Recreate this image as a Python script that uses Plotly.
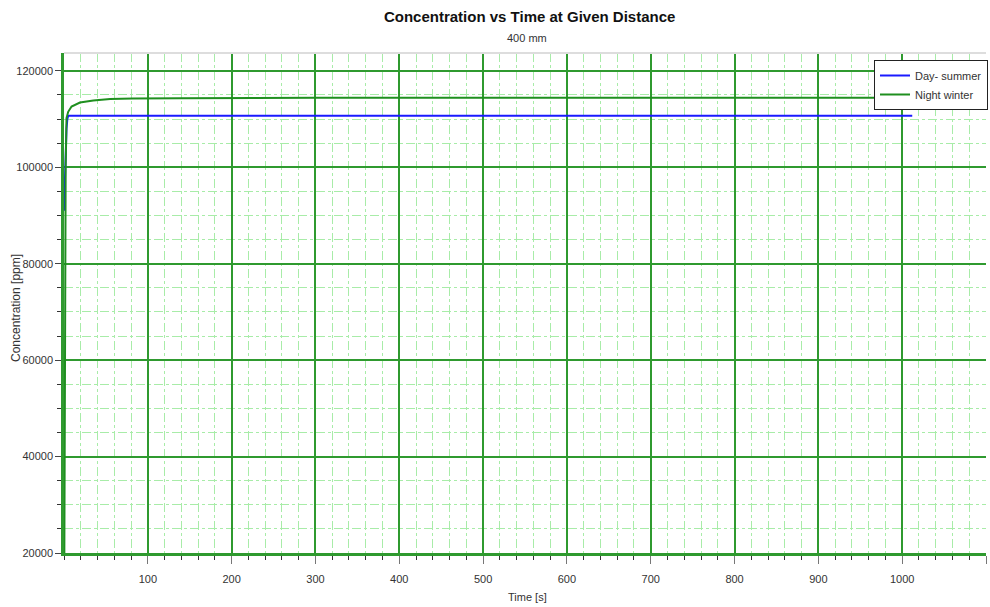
import plotly.graph_objects as go

# Data
day_t = [0, 1, 2, 3, 4, 5, 100, 500, 1012]
day_c = [91000, 97000, 104000, 108000, 110000, 110700, 110700, 110700, 110700]

night_t = [0, 1, 2, 3, 5, 9, 19, 35, 55, 82, 138, 300, 600, 1100]
night_c = [0, 80000, 100000, 110200, 111500, 112600, 113430, 113850, 114135, 114260, 114340, 114400, 114400, 114400]

x_tickvals = [100, 200, 300, 400, 500, 600, 700, 800, 900, 1000, 1100]
x_ticktext = ["100", "200", "300", "400", "500", "600", "700", "800", "900", "1000", "1100"]

DARK = "#2f9a2f"
LIGHT = "#a8eca8"

L, R, T, B = 64, 4, 53, 54
PW, PH = 990 - L - R, 607 - T - B


def px_x(p):
    return (p - L) / PW


def px_y(p):
    return (607 - B - p) / PH


fig = go.Figure()
fig.add_trace(go.Scatter(x=day_t, y=day_c, mode="lines", name="Day- summer",
                         line=dict(color="#1a1aff", width=2)))
fig.add_trace(go.Scatter(x=night_t, y=night_c, mode="lines", name="Night winter",
                         line=dict(color="#1f8f1f", width=2)))

fig.update_layout(
    width=990, height=607,
    margin=dict(l=L, r=R, t=T, b=B, autoexpand=False),
    paper_bgcolor="white", plot_bgcolor="white",
    title=dict(text="<b>Concentration vs Time at Given Distance</b>",
               x=0.535, xanchor="center", y=0.972, yanchor="middle",
               font=dict(family="Liberation Sans", size=15, color="#111")),
    font=dict(family="Liberation Sans", size=11, color="#333"),
    showlegend=True,
    legend=dict(x=px_x(874), xanchor="left", y=px_y(60), yanchor="top",
                bgcolor="white", bordercolor="#222", borderwidth=1,
                font=dict(size=11, color="#333"), itemwidth=30,
                tracegroupgap=0),
    annotations=[
        dict(text="400 mm", x=px_x(527), xref="paper", y=px_y(38), yref="paper",
             yanchor="middle", showarrow=False, font=dict(size=11, color="#333")),
        dict(text="Time [s]", x=px_x(527), xref="paper", y=px_y(597), yref="paper",
             yanchor="middle", showarrow=False, font=dict(size=11, color="#333")),
        dict(text="Concentration [ppm]", x=px_x(16), xref="paper", y=px_y(308), yref="paper",
             xanchor="center", yanchor="middle", textangle=-90, showarrow=False,
             font=dict(size=12, color="#333")),
    ],
)

fig.update_xaxes(
    range=[0, 1100], tickvals=x_tickvals, ticktext=x_ticktext,
    showgrid=True, gridcolor=DARK, gridwidth=1.5,
    ticks="outside", ticklen=8, tickcolor="#777",
    showline=True, linecolor=DARK, linewidth=3,
    zeroline=False, ticklabelstandoff=6,
    minor=dict(dtick=20, tick0=0, showgrid=True, gridcolor=LIGHT, griddash="dashdot",
               gridwidth=1, ticks="outside", ticklen=4, tickcolor="#333"),
    tickfont=dict(size=11, color="#333"),
)
fig.update_yaxes(
    range=[20000, 123700], dtick=20000, tick0=0, tickformat="d",
    showgrid=True, gridcolor=DARK, gridwidth=1.5,
    ticks="outside", ticklen=6, tickcolor="#444",
    showline=True, linecolor=DARK, linewidth=2.5,
    zeroline=False,
    minor=dict(dtick=5000, tick0=0, showgrid=True, gridcolor=LIGHT, griddash="dashdot",
               gridwidth=1, ticks="outside", ticklen=4, tickcolor="#333"),
    tickfont=dict(size=11, color="#333"),
)
fig.add_shape(type="line", xref="paper", yref="paper", x0=0, x1=1, y0=1, y1=1,
              line=dict(color="#dddddd", width=2))

fig.write_html("out.html")
